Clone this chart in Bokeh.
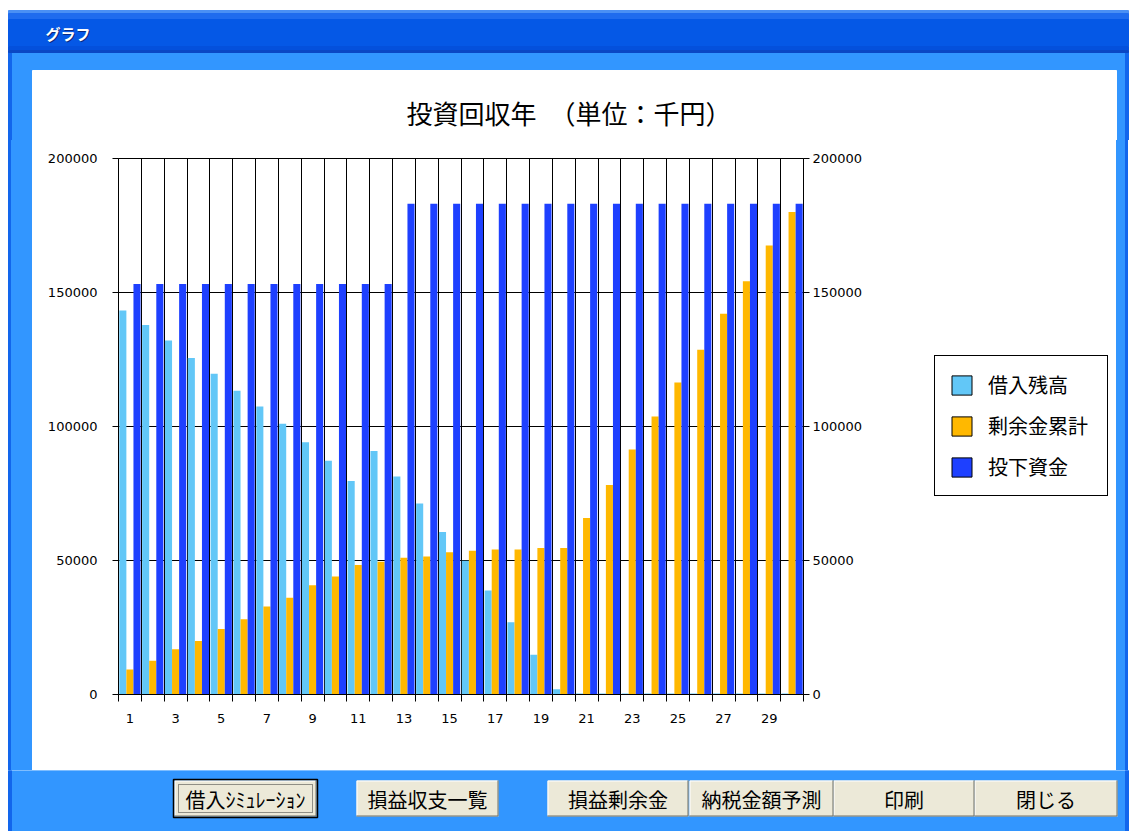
from bokeh.plotting import figure
from bokeh.models import (ColumnDataSource, Range1d, LinearAxis, FixedTicker,
                          BasicTickFormatter, Legend, LegendItem, Grid, Spacer)
from bokeh.layouts import column, row
from bokeh.transform import dodge
from bokeh.core.properties import value
from bokeh.embed import file_html
from bokeh.resources import INLINE

# ---------------- data ----------------
years = [1, 2, 3, 4, 5, 6, 7, 8, 9, 10, 11, 12, 13, 14, 15,
         16, 17, 18, 19, 20, 21, 22, 23, 24, 25, 26, 27, 28, 29, 30]
loan_balance = [143300, 137900, 132100, 125600, 119700, 113300, 107500, 101000, 94100, 87200,
                79700, 90900, 81300, 71300, 60600, 49900, 38800, 27000, 14800, 2000,
                400, 400, 400, 400, 400, 400, 400, 400, 400, 400]
surplus_total = [9300, 12600, 16900, 20000, 24400, 28100, 32800, 36100, 40800, 44000,
                 48300, 49500, 51000, 51500, 53100, 53600, 54100, 54100, 54700, 54700,
                 65900, 78200, 91400, 103700, 116400, 128600, 142100, 154200, 167500, 180000]
invested = [153200, 153200, 153200, 153200, 153200, 153200, 153200, 153200, 153200, 153200,
            153200, 153200, 183100, 183100, 183100, 183100, 183100, 183100, 183100, 183100,
            183100, 183100, 183100, 183100, 183100, 183100, 183100, 183100, 183100, 183100]
series_names = ["借入残高", "剰余金累計", "投下資金"]
y_ticks = [0, 50000, 100000, 150000, 200000]
x_tick_labels = years[::2]
chart_title = "投資回収年　（単位：千円）"
window_title = "グラフ"
button_labels = ["借入ｼﾐｭﾚｰｼｮﾝ", "損益収支一覧", "損益剰余金", "納税金額予測", "印刷", "閉じる"]

# ---------------- styles ----------------
JP = "Noto Sans CJK JP"
NUM = "DejaVu Sans"
C_LOAN, C_SURP, C_INV = "#62C7F7", "#FFB800", "#1E40FF"
FRAME = "#3296FF"
EDGE = "#1266EC"
BTN = "#ECE9D8"
W, H = 1130, 831


def deco_fig(x0, y0, w, h):
    f = figure(width=w, height=h, x_range=Range1d(x0, x0 + w), y_range=Range1d(y0 + h, y0),
               output_backend="svg", toolbar_location=None,
               x_axis_location=None, y_axis_location=None, min_border=0)
    f.grid.grid_line_color = None
    f.outline_line_color = None
    f.background_fill_color = "white"
    f.border_fill_color = "white"
    return f


# ---------------- header (page y 0..140) ----------------
hdr = deco_fig(0, 0, W, 140)
hdr.quad(left=8, right=1128, top=52, bottom=140, color=FRAME)
hdr.quad(left=8, right=11, top=52, bottom=140, color=EDGE)
hdr.quad(left=1125, right=1128, top=52, bottom=140, color=EDGE)
bands = [(10, 13, "#4A90F4"), (13, 19, "#1F6CEE"), (19, 46, "#0558E6"), (46, 50, "#0450DC"), (50, 52, "#0A47C4")]
for t, b, c in bands:
    hdr.quad(left=8, right=1128, top=t, bottom=b, color=c)
hdr.quad(left=32, right=1116, top=70, bottom=140, color="white")
hdr.text(x=[46], y=[34], text=[window_title], text_color="#0A2A80", text_font=value(JP),
         text_font_size="15px", text_font_style="bold", text_baseline="middle")
hdr.text(x=[45], y=[33], text=[window_title], text_color="white", text_font=value(JP),
         text_font_size="15px", text_font_style="bold", text_baseline="middle")
hdr.text(x=[406], y=[112], text=[chart_title], text_color="black", text_font=value(JP),
         text_font_size="26px", text_baseline="middle", text_align="left")

# ---------------- side strips (page y 140..770) ----------------
lft = Spacer(width=32, height=630, styles={
    "background": "linear-gradient(to right, white 0px, white 8px, %s 8px, %s 11px, %s 11px)" % (EDGE, EDGE, FRAME)})
rgt = Spacer(width=14, height=630, styles={
    "background": "linear-gradient(to right, %s 0px, %s 9px, %s 9px, %s 12px, white 12px)" % (FRAME, FRAME, EDGE, EDGE)})

# ---------------- chart (page x 32..870) ----------------
src = ColumnDataSource(dict(year=years, loan=loan_balance, surplus=surplus_total, invest=invested))
boundaries = [y - 0.5 for y in years] + [years[-1] + 0.5]

p = figure(width=838, height=630, x_range=Range1d(0.5, 30.5), y_range=Range1d(0, 200000),
           output_backend="svg", toolbar_location=None,
           x_axis_location=None, y_axis_location=None,
           min_border_left=86, min_border_right=67, min_border_top=18, min_border_bottom=76)
p.background_fill_color = "white"
p.border_fill_color = "white"
p.outline_line_color = "black"
p.grid.grid_line_color = None

p.add_layout(Grid(dimension=0, ticker=FixedTicker(ticks=boundaries),
                  grid_line_color="black", grid_line_width=1))
p.add_layout(Grid(dimension=1, ticker=FixedTicker(ticks=y_ticks),
                  grid_line_color="black", grid_line_width=1))

bw = 0.31
p.vbar(x=dodge("year", -bw, range=p.x_range), top="loan", width=bw, source=src,
       fill_color=C_LOAN, line_color=None)
p.vbar(x=dodge("year", 0, range=p.x_range), top="surplus", width=bw, source=src,
       fill_color=C_SURP, line_color=None)
p.vbar(x=dodge("year", bw, range=p.x_range), top="invest", width=bw, source=src,
       fill_color=C_INV, line_color=None)


def yaxis(standoff):
    return LinearAxis(ticker=FixedTicker(ticks=y_ticks),
                      formatter=BasicTickFormatter(use_scientific=False),
                      major_tick_out=6, major_tick_in=0, minor_tick_out=0, minor_tick_in=0,
                      axis_line_color="black", major_tick_line_color="black",
                      major_label_standoff=standoff, major_label_text_font=NUM,
                      major_label_text_font_size="13px", major_label_text_color="black")


p.add_layout(yaxis(15), "left")
p.add_layout(yaxis(3), "right")
xa = LinearAxis(ticker=FixedTicker(ticks=x_tick_labels, minor_ticks=boundaries),
                major_tick_out=7, major_tick_in=0, major_tick_line_color=None,
                minor_tick_out=7, minor_tick_in=0, minor_tick_line_color="black",
                axis_line_color="black", major_label_standoff=12,
                major_label_text_font=NUM, major_label_text_font_size="13px",
                major_label_text_color="black")
p.add_layout(xa, "below")

# ---------------- legend panel (page x 870..1116) ----------------
lg = figure(width=246, height=630, x_range=Range1d(0, 1), y_range=Range1d(0, 1),
            output_backend="svg", toolbar_location=None,
            x_axis_location=None, y_axis_location=None,
            min_border_left=0, min_border_right=0, min_border_top=18, min_border_bottom=76)
lg.grid.grid_line_color = None
lg.outline_line_color = None
lg.background_fill_color = "white"
lg.border_fill_color = "white"
lg_r = []
for c in [C_LOAN, C_SURP, C_INV]:
    lg_r.append(lg.vbar(x=[float("nan")], top=[float("nan")], width=0.1,
                        fill_color=c, line_color="black", line_width=1))
legend = Legend(items=[LegendItem(label=n, renderers=[r]) for n, r in zip(series_names, lg_r)],
                location=(64, 198), orientation="vertical",
                border_line_color="black", border_line_width=1, border_line_alpha=1,
                background_fill_color="white", background_fill_alpha=1,
                label_text_font=JP, label_text_font_size="20px", label_text_color="black",
                glyph_width=25, glyph_height=24, label_standoff=14, label_width=105,
                spacing=12, padding=14, margin=0)
lg.add_layout(legend)

# ---------------- bottom (page y 770..831) ----------------
bot = deco_fig(0, 770, W, 61)
bot.quad(left=8, right=1128, top=770, bottom=831, color=FRAME)
bot.quad(left=8, right=11, top=770, bottom=831, color=EDGE)
bot.quad(left=1125, right=1128, top=770, bottom=831, color=EDGE)
b_left = [174, 356, 547, 689, 833, 974]
b_right = [316, 498, 688, 833, 974, 1117]
bt, bb = 780, 816
bot.quad(left=b_left, right=b_right, top=bt, bottom=bb, fill_color=BTN, line_color=None)
hi_x, hi_y, sh_x, sh_y = [], [], [], []
for l, r in zip(b_left, b_right):
    hi_x.append([l + 0.5, l + 0.5, r - 1]); hi_y.append([bb - 1, bt + 0.5, bt + 0.5])
    sh_x.append([l, r - 0.5, r - 0.5]); sh_y.append([bb - 0.5, bb - 0.5, bt])
bot.multi_line(xs=hi_x, ys=hi_y, line_color="white", line_width=1)
bot.multi_line(xs=sh_x, ys=sh_y, line_color="#716F64", line_width=1)
# focused first button
bot.quad(left=b_left[0] - 1, right=b_right[0] + 1, top=bt - 1, bottom=bb + 1,
         fill_color=None, line_color="black", line_width=1.5)
bot.quad(left=b_left[0] + 4, right=b_right[0] - 4, top=bt + 4, bottom=bb - 4,
         fill_color=None, line_color="#333333", line_width=1, line_dash="1 1")
bot.text(x=[(l + r) / 2 for l, r in zip(b_left, b_right)], y=[(bt + bb) / 2 + 1] * 6,
         text=button_labels, text_color="black", text_font=value(JP), text_font_size="20px",
         text_align="center", text_baseline="middle")

layout = column(hdr, row(lft, p, lg, rgt), bot)
open("out.html", "w").write(file_html(layout, INLINE))
